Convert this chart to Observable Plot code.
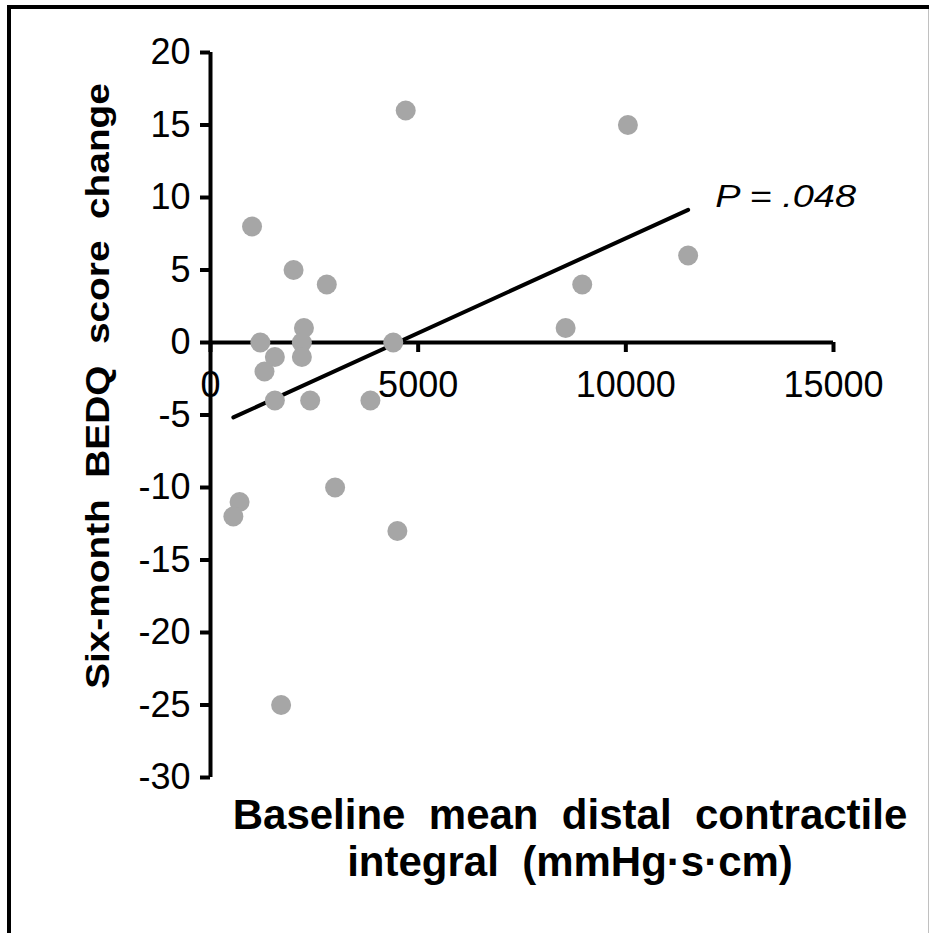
<!DOCTYPE html>
<html><head><meta charset="utf-8">
<script src="https://cdn.jsdelivr.net/npm/d3@7"></script>
<script src="https://cdn.jsdelivr.net/npm/@observablehq/plot@0.6"></script>
<style>
html,body{margin:0;padding:0;background:#fff;overflow:hidden;}
#wrap{position:relative;width:929px;height:933px;overflow:hidden;}
#border{position:absolute;left:7px;top:5px;width:1000px;height:1000px;border-top:4px solid #000;border-left:4px solid #000;pointer-events:none;}
#edge{position:absolute;left:928px;top:9px;width:1px;height:924px;background:#c0c0c0;}
svg text{white-space:pre;}
</style></head><body>
<div id="wrap"><div id="chart"></div><div id="border"></div><div id="edge"></div></div>
<script>
// Baseline mean DCI (mmHg·s·cm) and six-month BEDQ score change
const dciValues  = [4700, 1000, 2000, 2800, 2250, 1200, 2200, 4400, 1550, 2200, 1300, 1550, 2400, 3850, 3000, 700, 550, 4500, 1700, 10050, 11500, 8950, 8550];
const bedqChange = [16,   8,    5,    4,    1,    0,    0,    0,    -1,   -1,   -2,   -4,   -4,   -4,   -10,  -11, -12, -13,  -25,  15,    6,     4,    1];
const xTickValues = [0, 5000, 10000, 15000];
const yTickValues = [-30, -25, -20, -15, -10, -5, 0, 5, 10, 15, 20];
const pLabelText = ["P = .048"];
const pLabelX = [12150];
const pLabelY = [10];
const xTitleLines = ["Baseline  mean  distal  contractile", "integral  (mmHg·s·cm)"];
const yTitleText = ["Six-month  BEDQ  score  change"];

const points = dciValues.map((x, i) => ({x, y: bedqChange[i]}));
const font = "Arial, 'Liberation Sans', sans-serif";
const lw = 4;

const chart = Plot.plot({
  width: 929, height: 933,
  marginLeft: 210, marginRight: 96, marginTop: 52, marginBottom: 156,
  style: {fontFamily: font, fontSize: "36px", color: "black", background: "transparent", overflow: "visible"},
  x: {domain: [0, 15000], axis: null},
  y: {domain: [-30, 20], axis: null},
  marks: [
    Plot.ruleY([0], {stroke: "black", strokeWidth: lw}),
    Plot.ruleX([0], {stroke: "black", strokeWidth: lw}),
    Plot.axisY({ticks: yTickValues, tickSize: 10, tickPadding: 10, strokeWidth: lw, label: null, fontSize: 36, tickFormat: d => String(d)}),
    Plot.ruleX(xTickValues, {x: d => d, y1: () => 0, y2: () => 0, insetBottom: -10, stroke: "black", strokeWidth: lw}),
    Plot.text(xTickValues, {x: d => d, y: () => 0, text: d => String(d), dy: 43, lineAnchor: "middle", fontSize: 36, fill: "black"}),
    Plot.linearRegressionY(points, {x: "x", y: "y", stroke: "black", strokeWidth: lw, ci: 0}),
    Plot.dot(points, {x: "x", y: "y", r: 10, fill: "#a6a6a6", stroke: "none"}),
    Plot.text(pLabelText, {x: (d, i) => pLabelX[i], y: (d, i) => pLabelY[i], text: d => d, textAnchor: "start", lineAnchor: "middle", fontSize: 31, fontStyle: "italic", fill: "black"}),
    Plot.text([xTitleLines[0]], {frameAnchor: "bottom", dx: 48, dy: 38, text: d => d, textAnchor: "middle", lineAnchor: "middle", fontSize: 42, fontWeight: "bold", fill: "black"}),
    Plot.text([xTitleLines[1]], {frameAnchor: "bottom", dx: 48, dy: 85, text: d => d, textAnchor: "middle", lineAnchor: "middle", fontSize: 42, fontWeight: "bold", fill: "black"}),
    Plot.text(yTitleText, {frameAnchor: "left", rotate: -90, dx: -112, dy: -29, text: d => d, textAnchor: "middle", lineAnchor: "middle", fontSize: 34, fontWeight: "bold", fill: "black"})
  ]
});
document.getElementById("chart").appendChild(chart);

// stretch a text along its own direction to the reference length
function stretch(content, target) {
  d3.select(chart).selectAll("text")
    .filter(function() { return this.textContent === content; })
    .each(function() {
      const len = this.getComputedTextLength();
      if (!len) return;
      const tr = this.getAttribute("transform") || "";
      this.setAttribute("transform", tr + ` scale(${target / len},1)`);
    });
}
stretch(yTitleText[0], 606);
stretch(pLabelText[0], 141);
</script>
</body></html>
